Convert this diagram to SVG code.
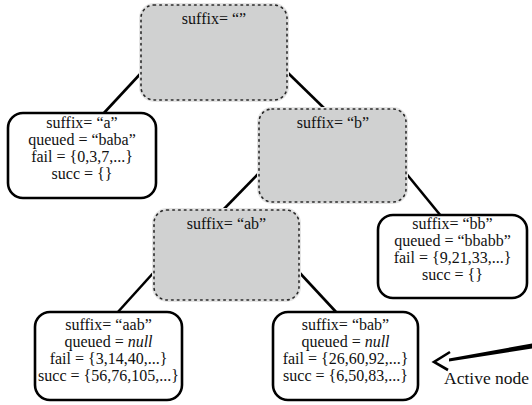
<svg xmlns="http://www.w3.org/2000/svg" width="532" height="405" viewBox="0 0 532 405">
  <style>
    text { font-family: "Liberation Serif", "DejaVu Serif", serif; font-size: 16px; fill: #111; text-anchor: middle; }
    .inner { fill: #d0d1d1; stroke: #2a2a2a; stroke-width: 1.6; stroke-dasharray: 1.6 4.2; stroke-linecap: round; }
    .halo { fill: none; stroke: #e4e4e4; stroke-width: 4; }
    .leaf { fill: #ffffff; stroke: #000; stroke-width: 2.6; }
    .edge { stroke: #000; stroke-width: 2.6; fill: none; }
    .it { font-style: italic; }
    .label { font-size: 17.5px; text-anchor: start; }
  </style>

  <!-- tree edges -->
  <g id="connectors">
    <line class="edge" x1="142" y1="72" x2="103" y2="114"/>
    <line class="edge" x1="286" y1="71" x2="326" y2="110"/>
    <line class="edge" x1="260" y1="172" x2="222" y2="211"/>
    <line class="edge" x1="405" y1="172" x2="441" y2="216"/>
    <line class="edge" x1="155" y1="271" x2="117" y2="313"/>
    <line class="edge" x1="298" y1="271" x2="337" y2="313"/>
  </g>

  <g id="node-root">
    <rect class="halo" x="141" y="5" width="146" height="95" rx="13"/>
    <rect class="inner" x="141" y="5" width="146" height="95" rx="13"/>
    <text x="214" y="24">suffix= “”</text>
  </g>

  <g id="node-a">
    <rect class="leaf" x="8" y="113" width="148" height="85" rx="15"/>
    <text x="82" y="128">suffix= “a”</text>
    <text x="82" y="145">queued = “baba”</text>
    <text x="82" y="162">fail = {0,3,7,...}</text>
    <text x="82" y="179">succ = {}</text>
  </g>

  <g id="node-b">
    <rect class="halo" x="259" y="109" width="147" height="93" rx="13"/>
    <rect class="inner" x="259" y="109" width="147" height="93" rx="13"/>
    <text x="333" y="128">suffix= “b”</text>
  </g>

  <g id="node-bb">
    <rect class="leaf" x="378" y="215" width="149" height="83" rx="15"/>
    <text x="452.5" y="229">suffix= “bb”</text>
    <text x="452.5" y="246">queued = “bbabb”</text>
    <text x="452.5" y="263">fail = {9,21,33,...}</text>
    <text x="452.5" y="280">succ = {}</text>
  </g>

  <g id="node-ab">
    <rect class="halo" x="154" y="210" width="145" height="90" rx="13"/>
    <rect class="inner" x="154" y="210" width="145" height="90" rx="13"/>
    <text x="226.5" y="229">suffix= “ab”</text>
  </g>

  <g id="node-aab">
    <rect class="leaf" x="35" y="312" width="147" height="88" rx="15"/>
    <text x="108.5" y="330">suffix= “aab”</text>
    <text x="108.5" y="347">queued = <tspan class="it">null</tspan></text>
    <text x="108.5" y="364">fail = {3,14,40,...}</text>
    <text x="108.5" y="381">succ = {56,76,105,...}</text>
  </g>

  <g id="node-bab">
    <rect class="leaf" x="273" y="312" width="145" height="88" rx="15"/>
    <text x="345.5" y="330">suffix= “bab”</text>
    <text x="345.5" y="347">queued = <tspan class="it">null</tspan></text>
    <text x="345.5" y="364">fail = {26,60,92,...}</text>
    <text x="345.5" y="381">succ = {6,50,83,...}</text>
  </g>

  <!-- pointer to the active node -->
  <g id="active-label">
    <polygon points="449,358.5 532,343.5 532,348.5 449,361.5" fill="#000"/>
    <polyline points="450,352 434,362 448,370" fill="none" stroke="#000" stroke-width="2.6" stroke-linejoin="miter"/>
    <text class="label" x="444" y="384">Active node</text>
  </g>
</svg>
